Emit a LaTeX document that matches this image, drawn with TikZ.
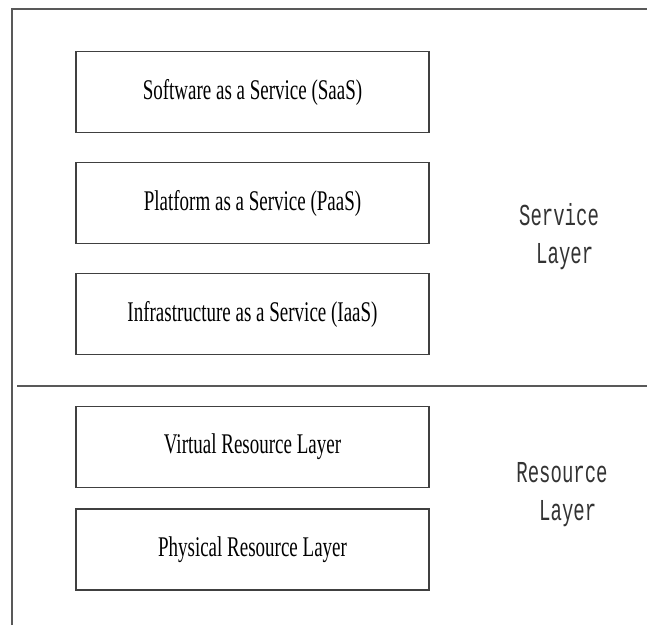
\documentclass[tikz,border=0pt]{standalone}
\usepackage{fontspec}
\setmainfont{Liberation Serif}
\newfontfamily\layerfont{Liberation Mono}
\usepackage{tikz}
\usetikzlibrary{positioning}
\newcommand{\tallbox}[1]{\scalebox{1}[1.5]{#1}}
\newcommand{\tallname}[1]{\scalebox{1}[1.6]{#1}}
\tikzstyle{layerbox} = [rectangle, minimum width=353pt, minimum height=81pt, text centered, draw=black!75, line width=1.2pt, font=\fontsize{19}{22}\selectfont]
\tikzstyle{layername} = [align=center, text=black!80, font=\layerfont\fontsize{19}{38}\selectfont]
\tikzstyle{rule} = [draw=black!65, line width=1.2pt]

\begin{document}
\begin{tikzpicture}[x=1pt, y=1pt, node distance=111pt]
\useasboundingbox (0,0) rectangle (647,-625);
\draw [rule] (12,-625) -- (12,-9) -- (647,-9);
\draw [rule] (17,-386) -- (647,-386);

\node (saas) [layerbox] at (252.5,-92) {\tallbox{Software as a Service (SaaS)}};
\node (paas) [layerbox, below of=saas] {\tallbox{Platform as a Service (PaaS)}};
\node (iaas) [layerbox, below of=paas] {\tallbox{Infrastructure as a Service (IaaS)}};
\node (virtual) [layerbox, below of=iaas, yshift=-22pt] {\tallbox{Virtual Resource Layer}};
\node (physical) [layerbox, below of=virtual, yshift=8.5pt] {\tallbox{Physical Resource Layer}};

\node (service) [layername] at (559,-237) {\tallname{Service}\\\tallname{\ Layer}};
\node (resource) [layername] at (562,-495) {\tallname{Resource}\\\tallname{\ Layer}};
\end{tikzpicture}
\end{document}
